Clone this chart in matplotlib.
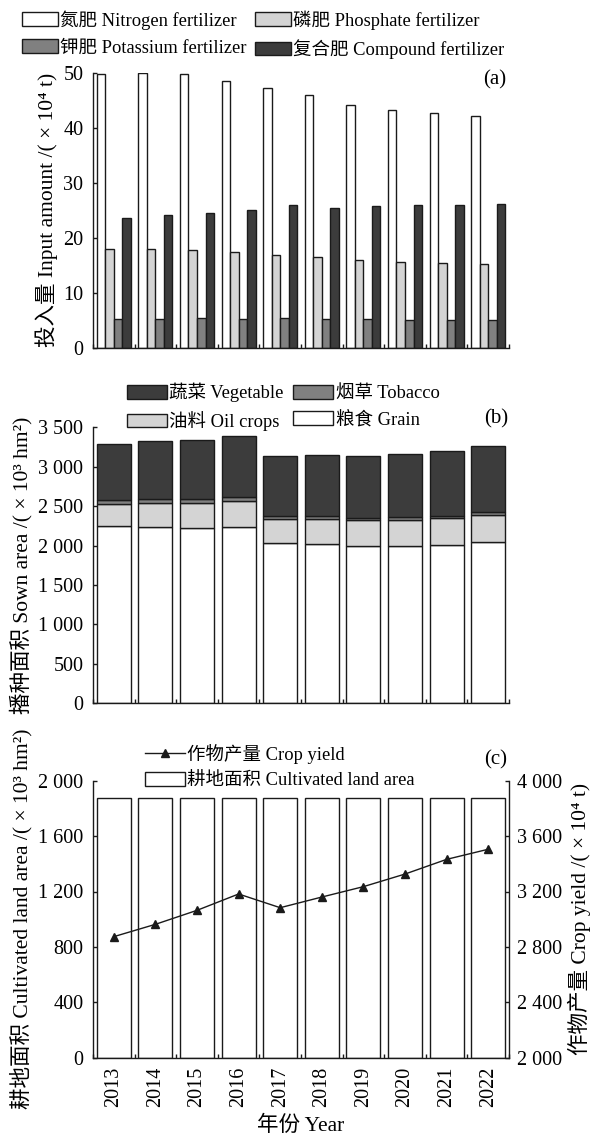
import numpy as np
import matplotlib
matplotlib.use('Agg')
import matplotlib.pyplot as plt

plt.rcParams['font.family'] = ['Liberation Serif', 'Noto Sans CJK SC']
plt.rcParams['font.size'] = 14

# Data
years = ['2013', '2014', '2015', '2016', '2017', '2018', '2019', '2020', '2021', '2022']

# (a) fertilizer input, x10^4 t
nitrogen = [49.7, 50.0, 49.8, 48.5, 47.2, 46.0, 44.2, 43.2, 42.7, 42.2]
phosphate = [17.9, 17.9, 17.8, 17.4, 16.9, 16.5, 15.9, 15.6, 15.4, 15.2]
potassium = [5.3, 5.3, 5.5, 5.3, 5.4, 5.2, 5.2, 5.1, 5.1, 5.1]
compound = [23.6, 24.1, 24.6, 25.0, 25.9, 25.4, 25.7, 25.9, 25.9, 26.1]

# (b) sown area, x10^3 hm2 (stacked)
grain = [2247, 2235, 2222, 2239, 2028, 2015, 1990, 1998, 2006, 2041]
oil_crops = [283, 300, 313, 325, 312, 321, 333, 330, 339, 346]
tobacco = [47, 50, 50, 47, 38, 38, 30, 29, 29, 34]
vegetable = [713, 735, 756, 777, 756, 769, 781, 803, 824, 836]

# (c) cultivated land area (x10^3 hm2) and crop yield (x10^4 t)
cultivated = [1873, 1873, 1873, 1873, 1873, 1873, 1873, 1873, 1873, 1873]
crop_yield = [2874, 2963, 3064, 3182, 3083, 3160, 3235, 3326, 3432, 3505]

C_WHITE = 'white'
C_LIGHT = '#d4d4d4'
C_MID = '#808080'
C_DARK = '#3c3c3c'
EDGE = '#1a1a1a'

FS_TICK = 14.5
FS_LAB = 15.5
FS_LEG = 13.3
FS_PANEL = 15

W, H = 596, 1136
fig = plt.figure(figsize=(W / 100, H / 100), dpi=100)


def axes_px(x0, y0, x1, y1):
  # pixel box (top-left origin) -> figure axes
  return fig.add_axes([x0 / W, 1 - y1 / H, (x1 - x0) / W, (y1 - y0) / H])


def style_axes(ax, show_labels=False):
  x = np.arange(len(years))
  ax.set_xlim(-0.5, len(years) - 0.5)
  ax.set_xticks(x)
  ax.set_xticks(np.arange(-0.5, len(years)), minor=True)
  if show_labels:
    ax.set_xticklabels(years, rotation=90, fontsize=FS_TICK)
  else:
    ax.set_xticklabels([])
  ax.tick_params(axis='x', which='major', length=0, pad=6.5)
  ax.tick_params(axis='x', which='minor', direction='in', length=3,
    width=1, color=EDGE)
  ax.tick_params(axis='y', direction='in', length=3, width=1, color=EDGE,
    pad=7, labelsize=FS_TICK)
  ax.spines['top'].set_visible(False)
  ax.spines['right'].set_visible(False)
  for s in ('left', 'bottom'):
    ax.spines[s].set_linewidth(1.0)
    ax.spines[s].set_color(EDGE)


def fmt(v):
  # thousands with a space, like "3 500"
  return '{:,}'.format(int(v)).replace(',', ' ')


x = np.arange(len(years))

#####
# (a) fertilizer
ax1 = axes_px(93, 72.7, 509, 348)
bw = 0.205
series_a = [
  (nitrogen, C_WHITE, '氮肥 Nitrogen fertilizer'),
  (phosphate, C_LIGHT, '磷肥 Phosphate fertilizer'),
  (potassium, C_MID, '钾肥 Potassium fertilizer'),
  (compound, C_DARK, '复合肥 Compound fertilizer'),
]
for i, (vals, col, lab) in enumerate(series_a):
  ax1.bar(x + (i - 1.5) * bw, vals, width=bw, color=col, edgecolor=EDGE,
    linewidth=1.0, label=lab)
ax1.set_ylim(0, 50)
ax1.set_yticks([0, 10, 20, 30, 40, 50])
style_axes(ax1)
ax1.set_ylabel('投入量 Input amount /( × 10⁴ t)', fontsize=FS_LAB)
h, l = ax1.get_legend_handles_labels()
# column-first fill: N, K | P, compound
order = [0, 2, 1, 3]
fig.legend([h[k] for k in order], [l[k] for k in order], ncol=2,
  loc='upper left', bbox_to_anchor=(22 / W, 1 - 10 / H), frameon=False,
  borderpad=0, borderaxespad=0, handlelength=1.95, handleheight=0.75,
  handletextpad=0.12, columnspacing=0.45, labelspacing=0.52,
  fontsize=FS_LEG)
fig.text(495 / W, 1 - 80 / H, '(a)', ha='center', va='center',
  fontsize=FS_PANEL)

#####
# (b) sown area
ax2 = axes_px(93, 427.3, 509, 703.3)
bw2 = 0.82
bottom = np.zeros(len(years))
stack = [
  (grain, C_WHITE, '粮食 Grain'),
  (oil_crops, C_LIGHT, '油料 Oil crops'),
  (tobacco, C_MID, '烟草 Tobacco'),
  (vegetable, C_DARK, '蔬菜 Vegetable'),
]
bars_b = {}
for vals, col, lab in stack:
  b = ax2.bar(x, vals, width=bw2, bottom=bottom, color=col, edgecolor=EDGE,
    linewidth=1.0, label=lab)
  bars_b[lab] = b
  bottom = bottom + np.array(vals)
ax2.set_ylim(0, 3500)
ticks_b = np.arange(0, 3501, 500)
ax2.set_yticks(ticks_b)
ax2.set_yticklabels([fmt(t) for t in ticks_b])
style_axes(ax2)
ax2.set_ylabel('播种面积 Sown area /( × 10³ hm²)', fontsize=FS_LAB)
leg_b = ['蔬菜 Vegetable', '油料 Oil crops', '烟草 Tobacco', '粮食 Grain']
fig.legend([bars_b[k] for k in leg_b], leg_b, ncol=2,
  loc='upper left', bbox_to_anchor=(127 / W, 1 - 383 / H), frameon=False,
  borderpad=0, borderaxespad=0, handlelength=2.15, handleheight=0.75,
  handletextpad=0.15, columnspacing=0.5, labelspacing=0.45,
  fontsize=FS_LEG)
fig.text(496 / W, 1 - 419 / H, '(b)', ha='center', va='center',
  fontsize=FS_PANEL)

#####
# (c) cultivated land & crop yield
ax3 = axes_px(93, 780.7, 509, 1057.7)
bar_c = ax3.bar(x, cultivated, width=bw2, color=C_WHITE, edgecolor=EDGE,
  linewidth=1.0, label='耕地面积 Cultivated land area')
ax3.set_ylim(0, 2000)
ticks_c = np.arange(0, 2001, 400)
ax3.set_yticks(ticks_c)
ax3.set_yticklabels([fmt(t) for t in ticks_c])
style_axes(ax3, show_labels=True)
ax3.set_ylabel('耕地面积 Cultivated land area /( × 10³ hm²)', fontsize=FS_LAB)
ax3.set_xlabel('年份 Year', fontsize=FS_LAB, labelpad=6)

ax3b = ax3.twinx()
line_c, = ax3b.plot(x, crop_yield, color='#1a1a1a', linewidth=1.0,
  marker='^', markersize=6, label='作物产量 Crop yield')
ax3b.set_ylim(2000, 4000)
ticks_y = np.arange(2000, 4001, 400)
ax3b.set_yticks(ticks_y)
ax3b.set_yticklabels([fmt(t) for t in ticks_y])
ax3b.tick_params(axis='y', direction='in', length=3, width=1, color=EDGE,
  pad=6, labelsize=FS_TICK)
ax3b.spines['top'].set_visible(False)
ax3b.spines['left'].set_visible(False)
ax3b.spines['bottom'].set_visible(False)
ax3b.spines['right'].set_linewidth(1.0)
ax3b.spines['right'].set_color(EDGE)
ax3b.set_ylabel('作物产量 Crop yield /( × 10⁴ t)', fontsize=FS_LAB)

fig.legend([line_c, bar_c], ['作物产量 Crop yield', '耕地面积 Cultivated land area'],
  loc='upper left', bbox_to_anchor=(145 / W, 1 - 744 / H), frameon=False,
  borderpad=0, borderaxespad=0, handlelength=2.15, handleheight=0.75,
  handletextpad=0.15, labelspacing=0.45, fontsize=FS_LEG)
fig.text(496 / W, 1 - 760 / H, '(c)', ha='center', va='center',
  fontsize=FS_PANEL)

fig.savefig('out.png', dpi=100)
